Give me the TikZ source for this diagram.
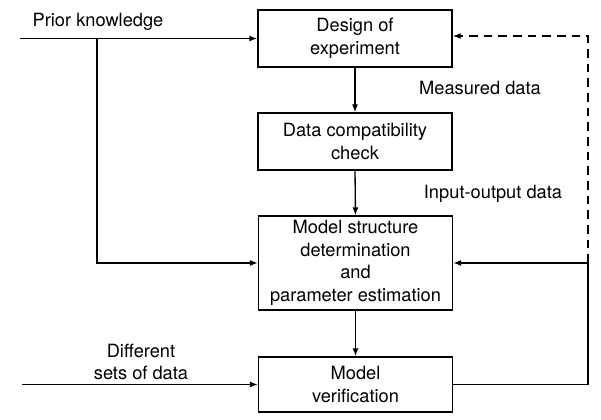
\documentclass[tikz,border=0pt]{standalone}
\usepackage{fontspec}
\setmainfont{TeX Gyre Heros}
\usetikzlibrary{arrows.meta}
\begin{document}
\begin{tikzpicture}[x=0.75pt,y=-0.75pt,
  txt/.style={font=\fontsize{13.7}{16.9}\selectfont, align=center, inner sep=0pt},
  blk/.style={draw, line width=1pt, inner sep=0pt, minimum width=145.5pt, txt},
  conn/.style={line width=1pt, -{Latex[length=6pt,width=4.5pt]}},
  plain/.style={line width=1pt}]
\useasboundingbox (0,0) rectangle (601,420);
\node[blk, minimum height=42.75pt] (b1) at (355,38.5) {Design of\\experiment};
\node[blk, minimum height=42.75pt] (b2) at (355,141.5) {Data compatibility\\check};
\node[blk, minimum height=70.5pt] (b3) at (355.5,263) {Model structure\\determination\\and\\parameter estimation};
\node[blk, minimum height=41.25pt] (b4) at (355.5,384.5) {Model\\verification};
\node[txt] (lpk) at (98,22) {Prior knowledge};
\node[txt] (lmd) at (480,88) {Measured data};
\node[txt] (lio) at (493,194) {Input-output data};
\node[txt] (lds) at (141,362) {Different\\sets of data};
\coordinate (pk) at (20,38.5);
\coordinate (j1) at (97,38.5);
\coordinate (ds) at (22,384.5);
\coordinate (r1) at (588,263);
\coordinate (r2) at (588,36);
\draw[conn] (pk) -- (b1.west);
\draw[conn] (j1) |- (b3.west);
\draw[conn] (b1.south) -- (b2.north);
\draw[conn] (b2.south) -- (b3.north);
\draw[conn] (b3.south) -- (b4.north);
\draw[conn] (ds) -- (b4.west);
\draw[conn] (b4.east) -| (r1) -- (b3.east);
\draw[conn, dash pattern=on 6.5pt off 4.5pt] (r1) -- (r2) -- (r2 -| b1.east);
\end{tikzpicture}
\end{document}
